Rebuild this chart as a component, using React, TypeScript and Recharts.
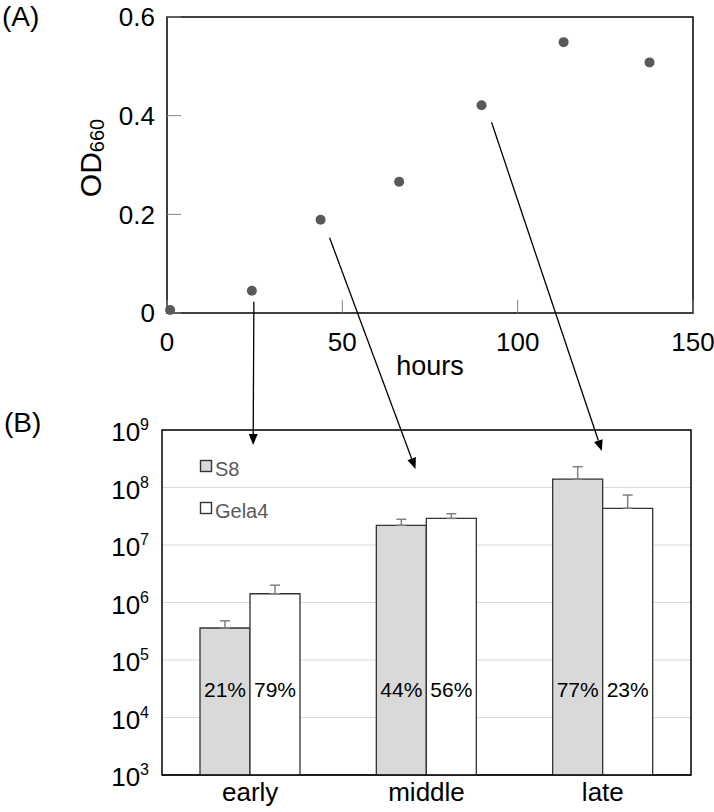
import React from 'react';
import {
  ScatterChart,
  Scatter,
  BarChart,
  Bar,
  XAxis,
  YAxis,
  CartesianGrid,
  ReferenceArea,
  ErrorBar,
  LabelList,
  Legend,
  Label,
} from 'recharts';

// (A) growth curve
const hours = [0.9, 24.2, 43.8, 66.2, 89.7, 113.1, 137.6];
const od660 = [0.006, 0.045, 0.189, 0.266, 0.421, 0.549, 0.508];
const hourTicks = [0, 50, 100, 150];
const odTicks = [0, 0.2, 0.4, 0.6];

// (B) cell counts per phase (log scale)
const phases = ['early', 'middle', 'late'];
const strains = ['S8', 'Gela4'];
const s8 = [3.6e5, 2.2e7, 1.4e8];
const s8Upper = [4.8e5, 2.8e7, 2.3e8];
const gela4 = [1.42e6, 2.9e7, 4.35e7];
const gela4Upper = [2.0e6, 3.5e7, 7.4e7];
const s8Share = ['21%', '44%', '77%'];
const gela4Share = ['79%', '56%', '23%'];
const countTicks = [1e3, 1e4, 1e5, 1e6, 1e7, 1e8, 1e9];

// which growth-curve point was sampled for each phase
const sampledPoint = [1, 2, 4];

const FONT = '"Liberation Sans", Arial, sans-serif';

// plot geometry (page px), shared by the charts and the arrow overlay
const W = 714;
const A = { left: 167, right: 693, top: 17, bottom: 313, height: 400 };
const B = { top: 400, left: 162, right: 691, plotTop: 430, plotBottom: 775, height: 412 };

const growth = hours.map((h, i) => ({ hours: h, od: od660[i] }));
const counts = phases.map((p, i) => ({
  phase: p,
  s8: s8[i],
  gela4: gela4[i],
  s8Err: [0, s8Upper[i] - s8[i]],
  gela4Err: [0, gela4Upper[i] - gela4[i]],
  s8Pct: s8Share[i],
  gela4Pct: gela4Share[i],
}));

const tickStyle = { fill: '#000', fontSize: 26, fontFamily: FONT };

const Dot = (p: any) => <circle cx={p.cx} cy={p.cy} r={5} fill="#595959" />;

const OdLabel = (p: any) => {
  const vb = p.viewBox;
  const cx = vb.x + 101;
  const cy = vb.y + vb.height / 2 - 7;
  return (
    <g transform={`translate(${cx}, ${cy}) rotate(-90)`}>
      <text textAnchor="middle" fontSize={30} fill="#000" fontFamily={FONT}>
        OD<tspan fontSize={20} dy={3}>660</tspan>
      </text>
    </g>
  );
};

const HoursLabel = (p: any) => {
  const vb = p.viewBox;
  return (
    <text x={vb.x + vb.width / 2} y={vb.y + 62} textAnchor="middle" fontSize={27} fill="#000" fontFamily={FONT}>
      hours
    </text>
  );
};

const PowerTick = (p: any) => {
  const exp = Math.round(Math.log10(p.payload.value));
  return (
    <text x={p.x} y={p.y} dy={11} textAnchor="end" fontSize={26} fill="#000" fontFamily={FONT}>
      10<tspan fontSize={16} dy={-11}>{exp}</tspan>
    </text>
  );
};

const ShareLabel = (p: any) => {
  const vb = p.viewBox ?? p;
  const x = vb.x ?? p.x;
  const y = vb.y ?? p.y;
  const w = vb.width ?? p.width;
  const h = vb.height ?? p.height;
  return (
    <text x={x + w / 2} y={y + h - 78} textAnchor="middle" fontSize={21} fill="#000" fontFamily={FONT}>
      {p.value}
    </text>
  );
};

const LegendBox = (props: any) => {
  // keep S8 on top like the original
  const items = [...(props.payload ?? [])].sort(
    (a: any, b: any) => strains.indexOf(a.value) - strains.indexOf(b.value),
  );
  return (
    <svg width={90} height={66}>
      {items.map((it: any, i: number) => (
        <g key={it.value} transform={`translate(0, ${i * 42})`}>
          <rect x={1.5} y={2.5} width={11} height={11} fill={it.color ?? it.payload?.fill} stroke="#333" strokeWidth={1.4} />
          <text x={16} y={18} fontSize={20} fill="#595959" fontFamily={FONT}>
            {it.value}
          </text>
        </g>
      ))}
    </svg>
  );
};

// arrows from sampled points down to the matching bar group
const arrowStart = [[2, 11], [9, 18], [10, 17]];
const arrowTip = [[3, 445], [-11, 469], [-1, 451]];

function Arrows() {
  const xA = (h: number) => A.left + (h / 150) * (A.right - A.left);
  const yA = (v: number) => A.bottom - (v / 0.6) * (A.bottom - A.top);
  const band = (B.right - B.left) / phases.length;
  return (
    <svg width={W} height={812} style={{ position: 'absolute', left: 0, top: 0, pointerEvents: 'none' }}>
      {sampledPoint.map((pi, i) => {
        const x1 = xA(hours[pi]) + arrowStart[i][0];
        const y1 = yA(od660[pi]) + arrowStart[i][1];
        const x2 = B.left + band * (i + 0.5) + arrowTip[i][0];
        const y2 = arrowTip[i][1];
        const len = Math.hypot(x2 - x1, y2 - y1);
        const ux = (x2 - x1) / len;
        const uy = (y2 - y1) / len;
        const hl = 11;
        const hw = 4.5;
        const bx = x2 - ux * hl;
        const by = y2 - uy * hl;
        return (
          <g key={i}>
            <line x1={x1} y1={y1} x2={bx} y2={by} stroke="#000" strokeWidth={1.3} />
            <polygon
              points={`${x2},${y2} ${bx - uy * hw},${by + ux * hw} ${bx + uy * hw},${by - ux * hw}`}
              fill="#000"
            />
          </g>
        );
      })}
      <text x={2} y={26} fontSize={28} fill="#000" fontFamily={FONT}>(A)</text>
      <text x={4} y={432} fontSize={28} fill="#000" fontFamily={FONT}>(B)</text>
    </svg>
  );
}

export default function App() {
  return (
    <div style={{ position: 'absolute', left: 0, top: 0, width: W, height: 812, background: '#fff', fontFamily: FONT }}>
      <div style={{ position: 'absolute', left: 0, top: 0 }}>
        <ScatterChart width={W} height={A.height} margin={{ top: A.top, right: W - A.right, bottom: 0, left: 0 }}>
          <ReferenceArea x1={0} x2={150} y1={0} y2={0.6} fill="none" stroke="#000" strokeWidth={1.5} />
          <XAxis
            type="number"
            dataKey="hours"
            domain={[0, 150]}
            ticks={hourTicks}
            height={A.height - A.bottom}
            axisLine={false}
            tickSize={-13}
            tickMargin={33}
            tickLine={{ stroke: '#808080' }}
            tick={tickStyle}
          >
            <Label content={HoursLabel} />
          </XAxis>
          <YAxis
            type="number"
            dataKey="od"
            domain={[0, 0.6]}
            ticks={odTicks}
            width={A.left}
            axisLine={false}
            tickSize={-14}
            tickMargin={26}
            tickLine={{ stroke: '#808080' }}
            tick={tickStyle}
            tickFormatter={(v: number) => (v === 0 ? '0' : v.toFixed(1))}
          >
            <Label content={OdLabel} />
          </YAxis>
          <Scatter data={growth} shape={Dot} isAnimationActive={false} />
        </ScatterChart>
      </div>

      <div style={{ position: 'absolute', left: 0, top: B.top }}>
        <BarChart
          width={W}
          height={B.height}
          data={counts}
          barSize={50}
          barGap={0}
          margin={{ top: B.plotTop - B.top, right: W - B.right, bottom: 0, left: 0 }}
        >
          <CartesianGrid vertical={false} stroke="#d9d9d9" strokeWidth={1.2} />
          <XAxis
            dataKey="phase"
            height={B.height - (B.plotBottom - B.top)}
            axisLine={{ stroke: '#000' }}
            tickLine={false}
            tickSize={0}
            tickMargin={8}
            tick={tickStyle}
          />
          <YAxis
            type="number"
            scale="log"
            domain={[1e3, 1e9]}
            ticks={countTicks}
            allowDataOverflow
            width={B.left}
            axisLine={false}
            tickLine={false}
            tickSize={0}
            tickMargin={13}
            tick={PowerTick}
          />
          <Legend
            layout="vertical"
            align="center"
            verticalAlign="middle"
            wrapperStyle={{ left: 199, top: 58, width: 90 }}
            content={LegendBox}
          />
          <Bar dataKey="s8" name="S8" fill="#d9d9d9" stroke="#333" strokeWidth={1.3} isAnimationActive={false}>
            <ErrorBar dataKey="s8Err" direction="y" width={5} stroke="#808080" strokeWidth={1.5} isAnimationActive={false} />
            <LabelList dataKey="s8Pct" content={ShareLabel} />
          </Bar>
          <Bar dataKey="gela4" name="Gela4" fill="#ffffff" stroke="#333" strokeWidth={1.3} isAnimationActive={false}>
            <ErrorBar dataKey="gela4Err" direction="y" width={5} stroke="#808080" strokeWidth={1.5} isAnimationActive={false} />
            <LabelList dataKey="gela4Pct" content={ShareLabel} />
          </Bar>
          <ReferenceArea y1={1e3} y2={1e9} fill="none" stroke="#000" strokeWidth={1.5} />
        </BarChart>
      </div>

      <Arrows />
    </div>
  );
}
